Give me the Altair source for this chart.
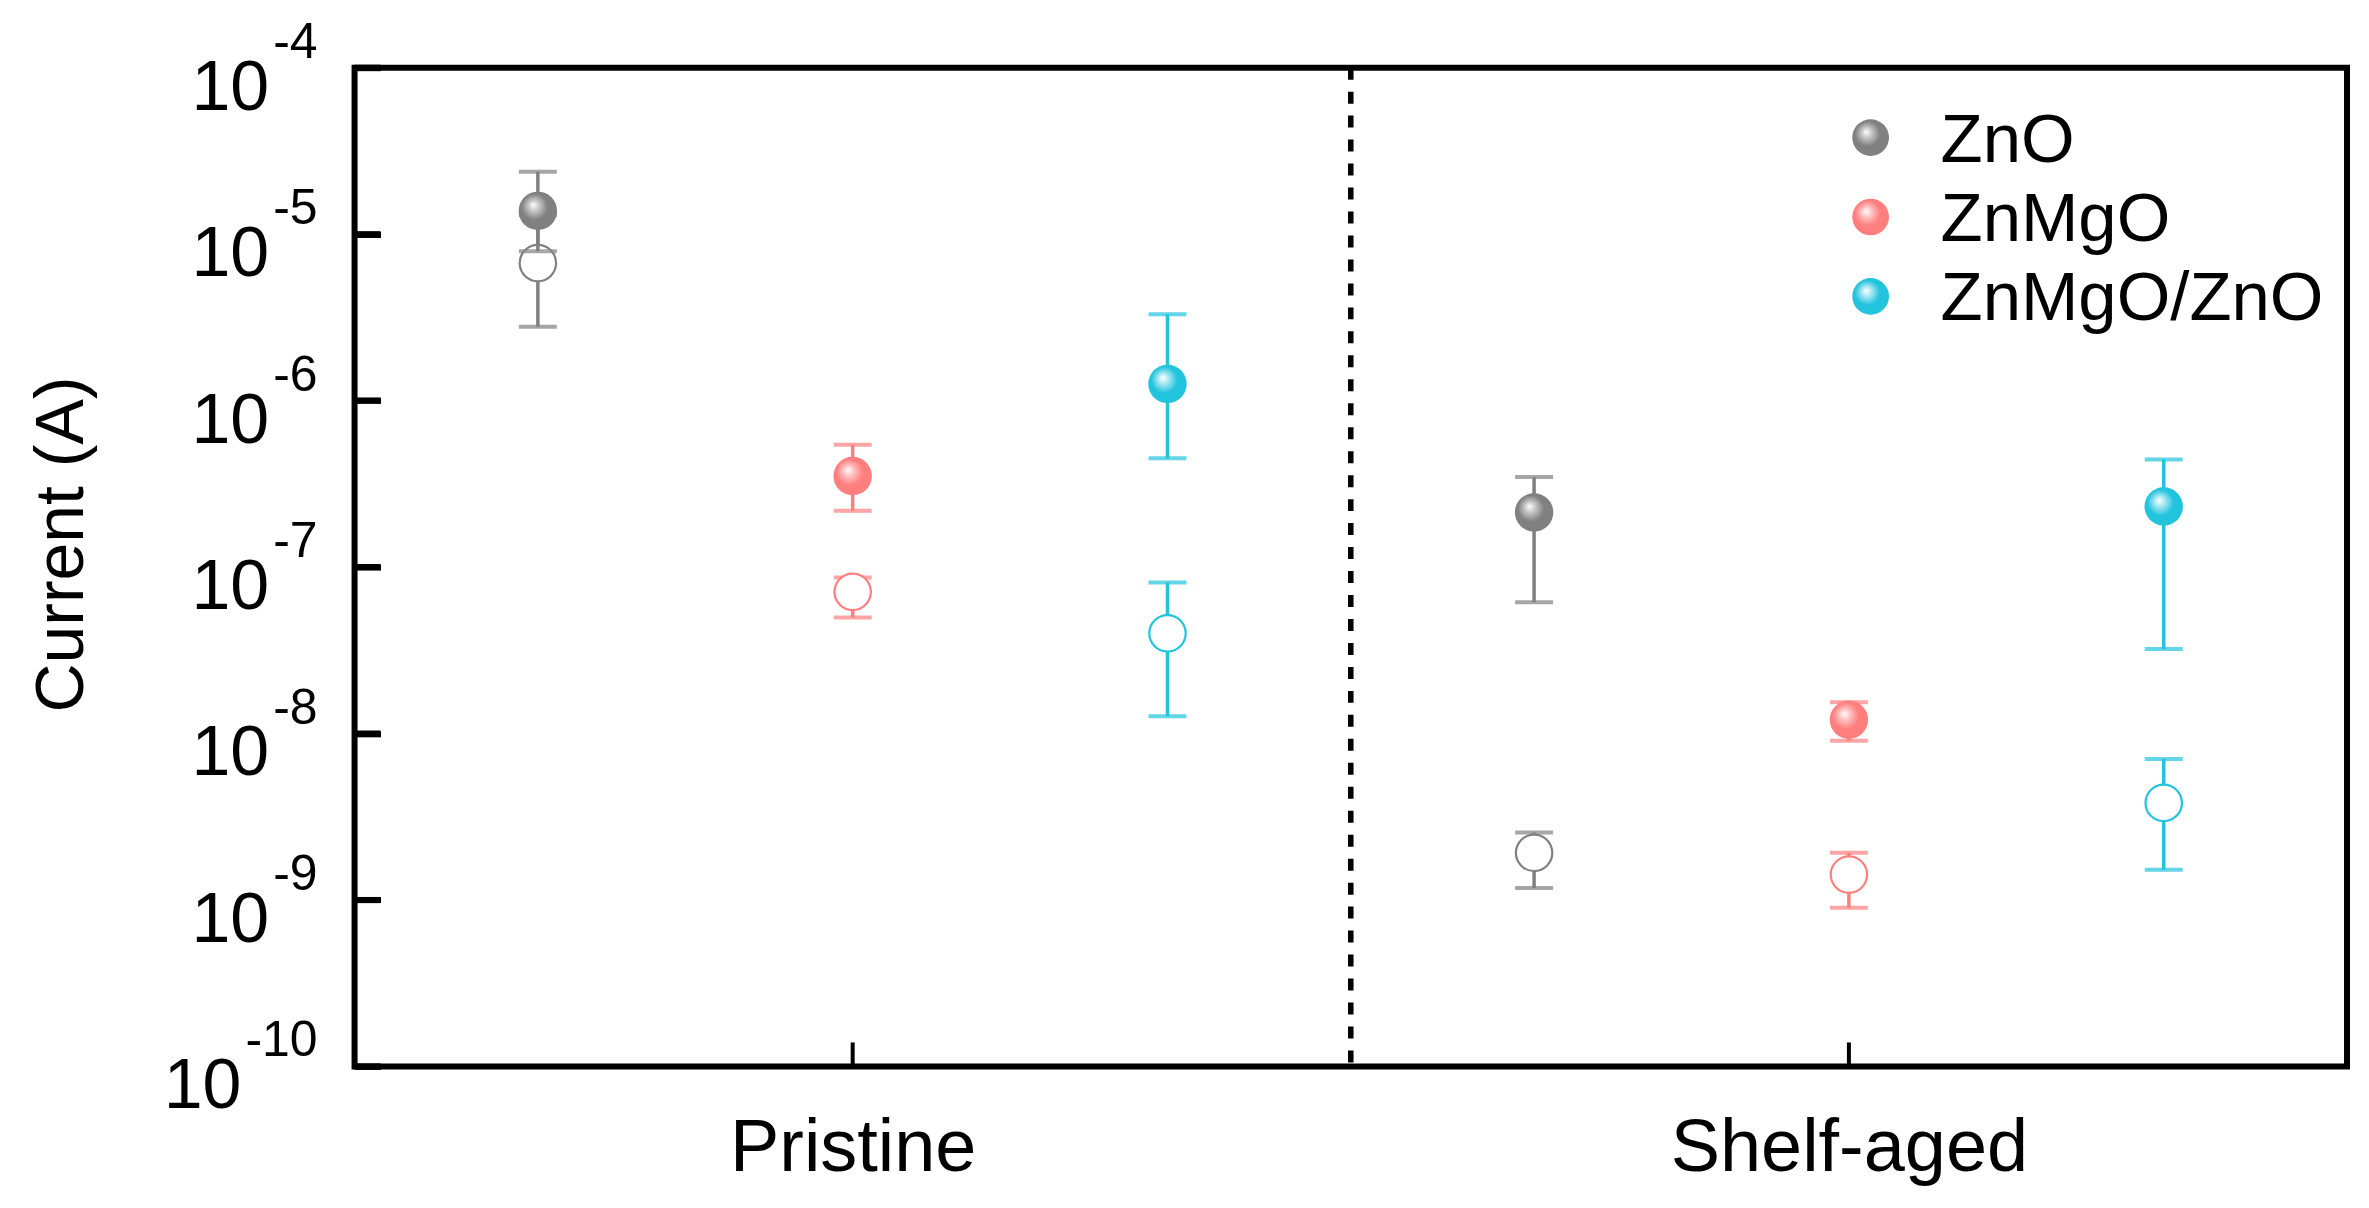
import json
import altair as alt
import pandas as pd

# ---------------- data ----------------
categories = ["Pristine", "Shelf-aged"]
series = ["ZnO", "ZnMgO", "ZnMgO/ZnO"]
colors = ["#808080", "#FF7F7F", "#22C3DD"]
light_colors = ["#C8C8C8", "#FFC4C4", "#A8E8F2"]

# filled symbols (one value per category)
filled_val = {"ZnO": [1.38e-5, 2.13e-7], "ZnMgO": [3.52e-7, 1.21e-8], "ZnMgO/ZnO": [1.26e-6, 2.31e-7]}
filled_lo = {"ZnO": [7.9e-6, 6.15e-8], "ZnMgO": [2.18e-7, 9.06e-9], "ZnMgO/ZnO": [4.5e-7, 3.22e-8]}
filled_hi = {"ZnO": [2.37e-5, 3.47e-7], "ZnMgO": [5.43e-7, 1.54e-8], "ZnMgO/ZnO": [3.3e-6, 4.42e-7]}
# open symbols
open_val = {"ZnO": [6.7e-6, 1.92e-9], "ZnMgO": [7.1e-8, 1.42e-9], "ZnMgO/ZnO": [4.0e-8, 3.83e-9]}
open_lo = {"ZnO": [2.78e-6, 1.18e-9], "ZnMgO": [4.98e-8, 8.97e-10], "ZnMgO/ZnO": [1.27e-8, 1.52e-9]}
open_hi = {"ZnO": [1.3e-5, 2.54e-9], "ZnMgO": [8.65e-8, 1.92e-9], "ZnMgO/ZnO": [8.07e-8, 7.03e-9]}

y_exponents = [-4, -5, -6, -7, -8, -9, -10]

# ---------------- layout / style ----------------
W, H = 1995, 1000
group_offset = [-0.316, 0.0, 0.316]
FONT = "Liberation Sans"

rows = []
for ci, cat in enumerate(categories):
    for si, s in enumerate(series):
        xpos = ci + 0.5 + group_offset[si]
        rows.append(dict(category=cat, series=s, kind="filled", x=xpos,
                         v=filled_val[s][ci], lo=filled_lo[s][ci], hi=filled_hi[s][ci]))
        rows.append(dict(category=cat, series=s, kind="open", x=xpos,
                         v=open_val[s][ci], lo=open_lo[s][ci], hi=open_hi[s][ci]))
df = pd.DataFrame(rows)

xscale = alt.Scale(domain=[0, len(categories)], nice=False, zero=False)
yscale = alt.Scale(type="log", domain=[1e-10, 1e-4], nice=False)

xaxis = alt.Axis(values=[i + 0.5 for i in range(len(categories))],
                 labelExpr=f"{json.dumps(categories)}[floor(datum.value)]",
                 title=None, grid=False, domain=False, ticks=False, tickSize=0,
                 labelFontSize=74, labelFont=FONT, labelColor="black",
                 labelPadding=104, labelBaseline="alphabetic", labelFlush=False,
                 labelOverlap=False, labelLimit=1000)
# inward y ticks drawn as short dashed grid stubs starting at the left edge
yaxis = alt.Axis(labels=False, ticks=False, domain=False,
                 grid=True, values=[10.0 ** e for e in y_exponents],
                 gridColor="black", gridWidth=6, gridOpacity=1,
                 gridDash=[26, 4000],
                 title="Current (A)", titleFontSize=68, titleFont=FONT,
                 titleFontWeight="normal", titleColor="black",
                 titleAngle=270, titleX=-272, titleY=477,
                 titleAlign="center", titleBaseline="alphabetic")


def X(field="x"):
    return alt.X(f"{field}:Q", scale=xscale, axis=xaxis)


def Y(field="v"):
    return alt.Y(f"{field}:Q", scale=yscale, axis=yaxis)


def grad(base, light):
    return alt.RadialGradient(
        gradient="radial", x1=0.38, y1=0.34, r1=0.0, x2=0.45, y2=0.45, r2=0.62,
        stops=[alt.GradientStop(offset=0.0, color="#FFFFFF"),
               alt.GradientStop(offset=0.22, color=light),
               alt.GradientStop(offset=0.55, color=base),
               alt.GradientStop(offset=1.0, color=base)])


layers = []

# vertical dashed separator between categories
sep = pd.DataFrame({"x": [float(i) for i in range(1, len(categories))]})
layers.append(alt.Chart(sep).mark_rule(color="black", strokeWidth=5.5, strokeDash=[12, 12])
              .encode(x=X()))

yt = pd.DataFrame({"e": y_exponents})
yt["v"] = [10.0 ** e for e in y_exponents]
yt["sup"] = [str(e) for e in y_exponents]

# y tick labels 10^n with superscript
layers.append(alt.Chart(yt).mark_text(font=FONT, fontSize=50, align="right",
                                      baseline="alphabetic", dy=-10, color="black")
              .encode(y=Y(), x=alt.value(-37), text="sup:N"))
layers.append(alt.Chart(yt)
              .transform_calculate(px="-37 - 50*(0.333 + 0.556*(length(datum.sup)-1)) - 4")
              .mark_text(font=FONT, fontSize=70, align="right", baseline="alphabetic",
                         dy=42, color="black", text="10")
              .encode(y=Y(), x=alt.X("px:Q", scale=None)))

base = alt.Chart(df)
for kind in ["open", "filled"]:
    for s, c, lc in zip(series, colors, light_colors):
        sub = base.transform_filter(
            (alt.datum.series == s) & (alt.datum.kind == kind))
        layers.append(sub.mark_rule(color=c, strokeWidth=3.5)
                      .encode(x=X(), y=Y("lo"), y2="hi:Q"))
        for f in ["lo", "hi"]:
            layers.append(sub.mark_tick(color=c, orient="horizontal", size=38,
                                        thickness=4)
                          .encode(x=X(), y=Y(f)))
        if kind == "open":
            layers.append(sub.mark_point(shape="circle", size=1330, filled=False,
                                         fill="white", fillOpacity=1,
                                         stroke=c, strokeWidth=2.2, opacity=1)
                          .encode(x=X(), y=Y()))
        else:
            layers.append(sub.mark_point(shape="circle", size=1480, filled=True,
                                         fill=grad(c, lc), strokeWidth=0, opacity=1)
                          .encode(x=X(), y=Y()))

# legend
leg = pd.DataFrame({"series": series, "i": list(range(len(series)))})
for s, c, lc in zip(series, colors, light_colors):
    sub = alt.Chart(leg).transform_filter(alt.datum.series == s).transform_calculate(
        ly="70 + 79.5*datum.i")
    layers.append(sub.mark_point(shape="circle", size=1350, filled=True,
                                 fill=grad(c, lc), strokeWidth=0, opacity=1)
                  .encode(x=alt.value(1518), y=alt.Y("ly:Q", scale=None)))
layers.append(alt.Chart(leg).transform_calculate(ly="70 + 79.5*datum.i")
              .mark_text(font=FONT, fontSize=69, align="left", baseline="alphabetic",
                         dy=24, color="black")
              .encode(x=alt.value(1588), y=alt.Y("ly:Q", scale=None), text="series:N"))

# inward ticks on y and x (drawn last)
layers.append(alt.Chart(yt).mark_tick(color="black", orient="horizontal", size=26,
                                      thickness=6, opacity=1)
              .encode(y=Y(), x=alt.value(13)))
xt = pd.DataFrame({"x": [i + 0.5 for i in range(len(categories))]})
layers.append(alt.Chart(xt).mark_tick(color="black", orient="vertical", size=24,
                                      thickness=4, opacity=1)
              .encode(x=X(), y=alt.value(H - 12)))

chart = (alt.layer(*layers)
         .properties(width=W, height=H,
                     autosize=alt.AutoSizeParams(type="none"),
                     padding={"left": 347, "top": 59, "right": 14, "bottom": 133})
         .configure(font=FONT, background="white")
         .configure_view(stroke="black", strokeWidth=6))

chart.save("out.html", embed_options={"renderer": "svg", "actions": False})
